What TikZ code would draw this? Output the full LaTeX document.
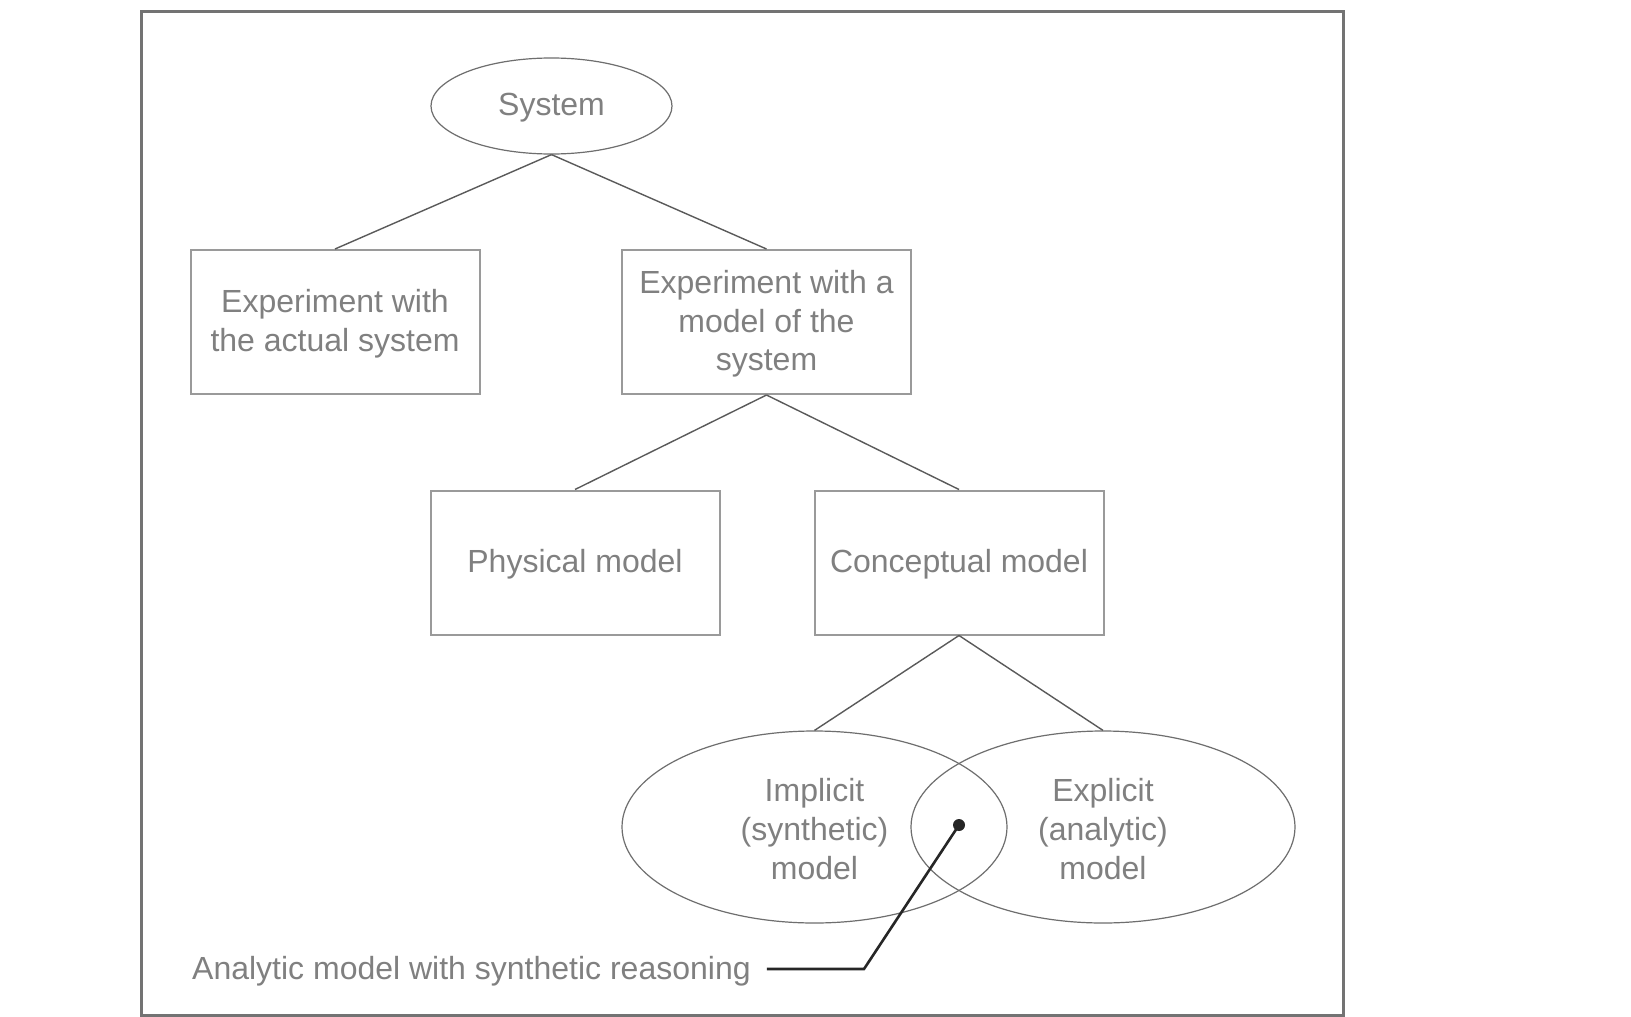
\documentclass[tikz,border=0pt]{standalone}
\usepackage{fontspec}
\setmainfont{Liberation Sans}
\usetikzlibrary{shapes.geometric}
\definecolor{txt}{HTML}{808080}
\definecolor{boxc}{HTML}{9A9A9A}
\definecolor{ellc}{HTML}{6E6E6E}
\definecolor{linec}{HTML}{5A5A5A}
\tikzset{
  every node/.style={font=\fontsize{32}{38.6}\selectfont, text=txt, align=center, inner sep=0pt},
  rbox/.style={draw=boxc, line width=2pt, minimum width=289pt, minimum height=144pt},
  oval/.style={ellipse, draw=ellc, line width=1.2pt},
  conn/.style={draw=linec, line width=1.4pt},
  lead/.style={draw=black!85, line width=2.6pt}
}
\begin{document}
\begin{tikzpicture}[x=1pt,y=-1pt]
\useasboundingbox (0,0) rectangle (1631,1017);
\fill[white] (0,0) rectangle (1631,1017);
\draw[draw=black!55, line width=3pt] (141,11) rectangle (1343,1015);

\node[oval, minimum width=241pt, minimum height=96pt] (sys) at (551.5,106) {};
\node at ([yshift=-2pt]sys.center) {System};
\node[rbox] (act) at (335,322) {};
\node at ([yshift=-2pt]act.center) {Experiment with\\the actual system};
\node[rbox] (mod) at (766.5,322) {};
\node at ([yshift=-2pt]mod.center) {Experiment with a\\model of the\\system};
\node[rbox] (phy) at (575,562.5) {};
\node at ([yshift=-2pt]phy.center) {Physical model};
\node[rbox] (con) at (959,562.5) {};
\node at ([yshift=-2pt]con.center) {Conceptual model};
\node[oval, minimum width=385pt, minimum height=192pt] (imp) at (814.5,827) {};
\node at ([yshift=-2pt]imp.center) {Implicit\\(synthetic)\\model};
\node[oval, minimum width=384pt, minimum height=192pt] (exp) at (1103,827) {};
\node at ([yshift=-2pt]exp.center) {Explicit\\(analytic)\\model};

\path[conn] (sys.south) -- (act.north);
\path[conn] (sys.south) -- (mod.north);
\path[conn] (mod.south) -- (phy.north);
\path[conn] (mod.south) -- (con.north);
\path[conn] (con.south) -- (imp.north);
\path[conn] (con.south) -- (exp.north);

\node[anchor=west] (lab) at (192,971) {Analytic model with synthetic reasoning};
\coordinate (bend) at (864,969);
\coordinate (dot) at (959,825);
\path[lead] ([xshift=16pt]lab.east |- bend) -- (bend) -- (dot);
\fill[black!85] (dot) circle (6pt);
\end{tikzpicture}
\end{document}
